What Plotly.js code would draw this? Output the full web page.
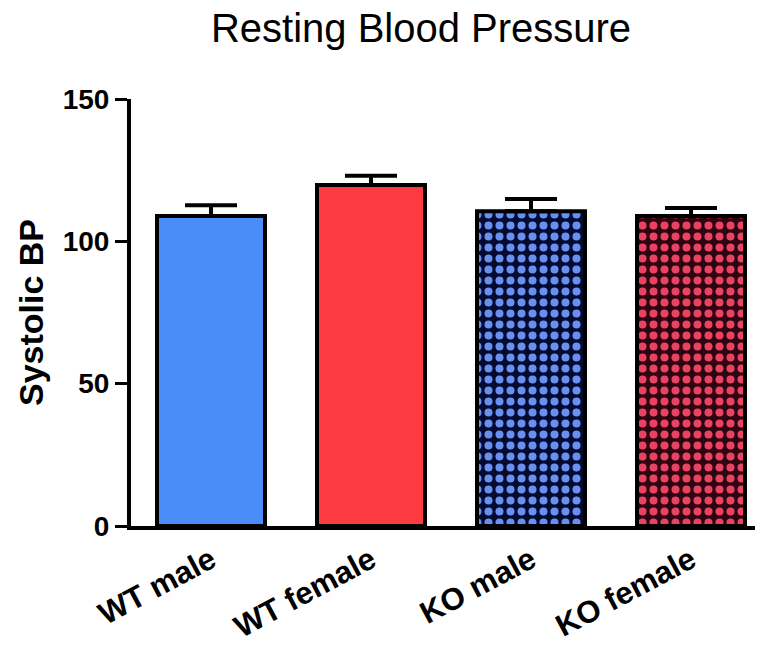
<!DOCTYPE html>
<html><head><meta charset="utf-8">
<script src="https://cdn.plot.ly/plotly-3.0.1.min.js"></script>
<style>body{margin:0;background:#fff}#chart{width:763px;height:646px}</style>
</head><body><div id="chart"></div>
<script>
const categories = ["WT male", "WT female", "KO male", "KO female"];
const means = [108.9, 119.8, 110.6, 108.9];
const semUp = [3.8, 3.2, 4.3, 2.8];
const yTicks = [0, 50, 100, 150];

const fillColors = ["#4b8df8", "#fb3b3f", "#050a30", "#2e0410"];
const patternColors = ["#4b8df8", "#fb3b3f", "#6790f0", "#ea4262"];
const shapes = ["", "", ".", "."];

const traces = categories.map((c, i) => ({
  type: "bar",
  x: [c],
  y: [means[i]],
  width: 0.675,
  marker: {
    color: fillColors[i],
    line: {color: "#000", width: 4},
    pattern: {shape: shapes[i], fgcolor: patternColors[i], fgopacity: 1, fillmode: "overlay", size: 11, solidity: 0.42}
  },
  error_y: {type: "data", symmetric: false, array: [semUp[i]], arrayminus: [0], color: "#000", thickness: 4, width: 26},
  hoverinfo: "none"
}));

const F = "Liberation Sans, Arial, sans-serif";
const layout = {
  width: 763, height: 646,
  margin: {l: 131, r: 8, t: 99, b: 120},
  paper_bgcolor: "#fff", plot_bgcolor: "#fff",
  showlegend: false, barmode: "overlay",
  font: {family: F, color: "#000"},
  title: {text: "Resting Blood Pressure", font: {size: 40, family: F}, x: 421/763, xref: "container", xanchor: "center", y: 1 - 28/646, yref: "container", yanchor: "middle"},
  xaxis: {
    type: "category", categoryorder: "array", categoryarray: categories,
    range: [-0.5, 3.4], showgrid: false, zeroline: false,
    showline: true, linecolor: "#000", linewidth: 4,
    ticks: "", tickangle: -28,
    tickfont: {size: 31, family: F, weight: "bold"}
  },
  yaxis: {
    range: [0, 150], tickvals: yTicks, ticktext: yTicks.map(String),
    showgrid: false, zeroline: false,
    showline: true, linecolor: "#000", linewidth: 4,
    ticks: "outside", ticklen: 12, tickwidth: 3, tickcolor: "#000",
    tickfont: {size: 28, family: F, weight: "bold"},
    title: {text: "Systolic BP", font: {size: 34, family: F, weight: "bold"}, standoff: 10}
  }
};

Plotly.newPlot("chart", traces, layout, {displayModeBar: false, staticPlot: true});
</script></body></html>
